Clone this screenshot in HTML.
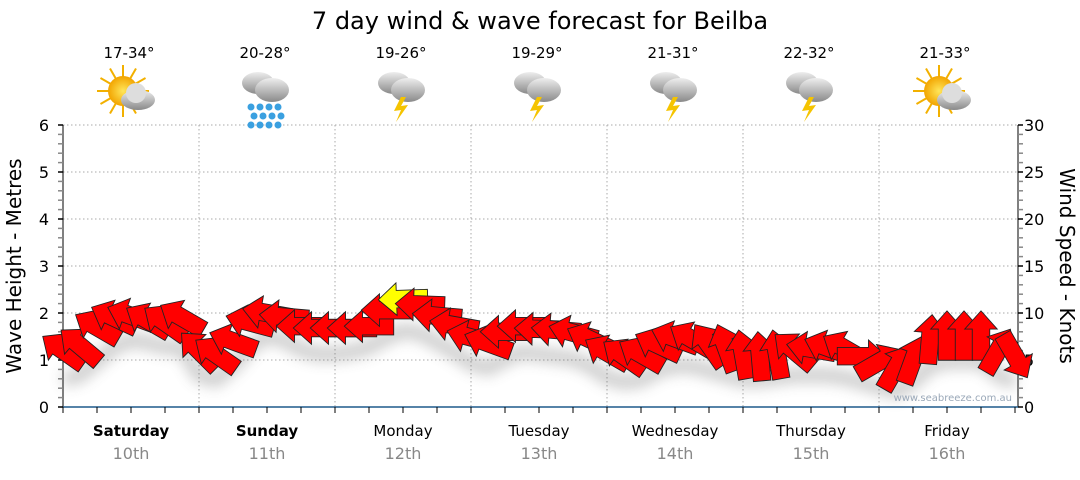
<!DOCTYPE html>
<html><head><meta charset="utf-8">
<style>
body{margin:0;background:#fff;width:1080px;height:475px;overflow:hidden;font-family:"Liberation Sans","DejaVu Sans",sans-serif}
svg text{font-family:"DejaVu Sans","Liberation Sans",sans-serif}
</style></head>
<body>
<svg id="chart" width="1080" height="475" viewBox="0 0 1080 475" xmlns="http://www.w3.org/2000/svg">
<defs>
<filter id="blur" x="-10%" y="-50%" width="120%" height="200%"><feGaussianBlur stdDeviation="7"/></filter>
<radialGradient id="sun" cx="50%" cy="50%" r="50%"><stop offset="0" stop-color="#ffe65a"/><stop offset="1" stop-color="#f2a400"/></radialGradient>
<linearGradient id="cloud" x1="0" y1="0" x2="0" y2="1"><stop offset="0" stop-color="#eee"/><stop offset="1" stop-color="#8a8a8a"/></linearGradient>
</defs>
<text x="540" y="29" font-size="24" text-anchor="middle" fill="#000">7 day wind &amp; wave forecast for Beilba</text>
<g id="grid"></g>
<g id="axes"></g>
<g id="shadow" filter="url(#blur)" opacity="0.3"></g>
<g id="arrows"></g>
<g id="days"></g>
<text x="1012" y="401" font-size="10" text-anchor="end" fill="#9aa8b8">www.seabreeze.com.au</text>
<text transform="translate(21,266) rotate(-90)" font-size="20" text-anchor="middle">Wave Height - Metres</text>
<text transform="translate(1060,266) rotate(90)" font-size="20" text-anchor="middle">Wind Speed - Knots</text>
</svg>
<script>
const dayNames=["Saturday","Sunday","Monday","Tuesday","Wednesday","Thursday","Friday"];
const dayDates=["10th","11th","12th","13th","14th","15th","16th"];
const temps=["17-34°","20-28°","19-26°","19-29°","21-31°","22-32°","21-33°"];
const icons=["sun","rain","storm","storm","storm","storm","sun"];
const leftTicks=[0,1,2,3,4,5,6];
const rightTicks=[0,5,10,15,20,25,30];
const windKnots=[6,6.5,8.5,9.5,9.7,9.2,9,9.5,6,5.6,7,9,10,9.6,8.6,8.4,8.4,8.4,8.6,10.3,11.5,10.9,9.7,8.7,7.4,6.8,8,8.6,8.3,8.2,7.9,7.2,5.8,5.4,5.6,6.6,7.3,7.2,6.6,6.3,5.6,5.4,5.6,6,6.2,6.3,6.2,5.4,4.8,4.2,5,7.2,7.6,7.6,7.6,6,5.4];
const windDir=[215,220,210,205,200,210,215,210,225,215,200,195,190,185,180,180,180,180,180,180,178,182,185,190,195,200,180,180,182,185,195,205,210,215,210,205,200,210,235,250,260,265,260,220,190,200,210,0,330,300,290,275,270,270,270,300,60];
const waveM=[1.0,1.1,1.4,1.7,1.85,1.8,1.7,1.7,1.1,1.0,1.3,1.7,1.95,1.85,1.65,1.55,1.55,1.6,1.7,1.9,2.05,2.0,1.8,1.6,1.35,1.25,1.45,1.6,1.55,1.5,1.45,1.3,1.05,0.95,1.0,1.2,1.3,1.3,1.2,1.1,1.0,1.0,1.05,1.1,1.1,1.1,1.05,0.95,0.85,0.75,0.95,1.3,1.4,1.4,1.4,1.1,0.95];
const NS="http://www.w3.org/2000/svg";
const X0=63,X1=1018,Y0=407,Y6=125,DAYW=136;
const yM=m=>Y0-(Y0-Y6)*m/6;
const yK=k=>Y0-(Y0-Y6)*k/30;
const xI=i=>X0+i*(7*DAYW)/56;
function el(tag,attrs,parent,txt){const e=document.createElementNS(NS,tag);for(const k in attrs)e.setAttribute(k,attrs[k]);if(txt!=null)e.textContent=txt;parent.appendChild(e);return e;}
const grid=document.getElementById('grid'),axes=document.getElementById('axes');
for(let m=1;m<=6;m++){const g=el('line',{x1:X0,x2:X1,y1:yM(m),y2:yM(m),stroke:'#aaa','stroke-dasharray':'1.5,2.5'},grid);}
for(let d=1;d<7;d++){const g=el('line',{x1:X0+d*DAYW,x2:X0+d*DAYW,y1:Y6,y2:Y0,stroke:'#aaa','stroke-dasharray':'1.5,2.5'},grid);}
el('line',{x1:X0,x2:X0,y1:Y6,y2:Y0,stroke:'#000'},axes);
el('line',{x1:X1,x2:X1,y1:Y6,y2:Y0,stroke:'#000'},axes);
el('line',{x1:X0,x2:X1,y1:Y0,y2:Y0,stroke:'#1f5a8c','stroke-width':1.5},axes);
for(let k=0;k<=30;k++){const y=yK(k);const c=k%5==0?'#000':'#888';el('line',{x1:X0-5,x2:X0,y1:y,y2:y,stroke:c,'stroke-width':1.5},axes);el('line',{x1:X1,x2:X1+5,y1:y,y2:y,stroke:c,'stroke-width':1.5},axes);}
for(let i=0;i<=28;i++){const x=X0+i*DAYW/4;el('line',{x1:x,x2:x,y1:Y0,y2:Y0+6,stroke:'#000'},axes);}
leftTicks.forEach(m=>{const t=el('text',{x:49,y:yM(m)+6,'font-size':16,'text-anchor':'end'},axes,m);});
rightTicks.forEach(k=>{const t=el('text',{x:1024,y:yK(k)+6,'font-size':16},axes,k);});
const sh=document.getElementById('shadow');
let d='';waveM.forEach((m,i)=>{d+=(i?'L':'M')+xI(i)+','+(yM(m)+20);});
const sp=el('path',{d:d,fill:'none',stroke:'#555','stroke-width':14},sh);

const ag=document.getElementById('arrows');
const shape="-19,-7 5,-7 5,-13 19,0 5,13 5,7 -19,7";
windKnots.forEach((k,i)=>{
 const fill=k>=11?'#ffff00':'#ff0000';
 const p=el('polygon',{points:shape,fill:fill,stroke:'#222','stroke-width':0.7,transform:`translate(${xI(i)},${yK(k)}) rotate(${windDir[i]}) scale(1.3,1.25)`},ag);
 
 
});
const dg=document.getElementById('days');
function icon(type,cx,cy,g){
 if(type==='sun'){for(let a=0;a<360;a+=30){const r=a*Math.PI/180;el('line',{x1:cx-6+Math.cos(r)*12,y1:cy-4+Math.sin(r)*12,x2:cx-6+Math.cos(r)*26,y2:cy-4+Math.sin(r)*26,stroke:'#f2b000','stroke-width':2},g);}el('circle',{cx:cx-6,cy:cy-4,r:15,fill:'url(#sun)'},g);el('ellipse',{cx:cx+9,cy:cy+5,rx:17,ry:10,fill:'url(#cloud)'},g);el('circle',{cx:cx+7,cy:cy-2,r:10,fill:'#ddd'},g);}
 else{el('ellipse',{cx:cx-7,cy:cy-12,rx:16,ry:11,fill:'url(#cloud)'},g);el('ellipse',{cx:cx+7,cy:cy-5,rx:17,ry:12,fill:'url(#cloud)'},g);
  if(type==='rain'){for(let r=0;r<3;r++)for(let c=0;c<4;c++)el('circle',{cx:cx-14+c*9+(r%2)*3,cy:cy+12+r*9,r:3.5,fill:'#3aa0e0'},g);}
  else{el('polygon',{points:`${cx},${cy+2} ${cx-7},${cy+16} ${cx},${cy+15} ${cx-5},${cy+27} ${cx+7},${cy+10} ${cx},${cy+11} ${cx+5},${cy+2}`,fill:'#f5c400'},g);}}
}
dayNames.forEach((n,i)=>{
 const cx=X0+DAYW*i+DAYW/2;
 const t=el('text',{x:cx,y:436,'font-size':15,'text-anchor':'middle','font-weight':i<2?'bold':'normal'},dg,n);
 const t2=el('text',{x:cx,y:459,'font-size':16,'text-anchor':'middle',fill:'#888'},dg,dayDates[i]);
 const t3=el('text',{x:cx-2,y:58,'font-size':15,'text-anchor':'middle'},dg,temps[i]);
 const g=el('g',{},dg);
 icon(icons[i],cx-2,95,g);
});
</script>
</body></html>
